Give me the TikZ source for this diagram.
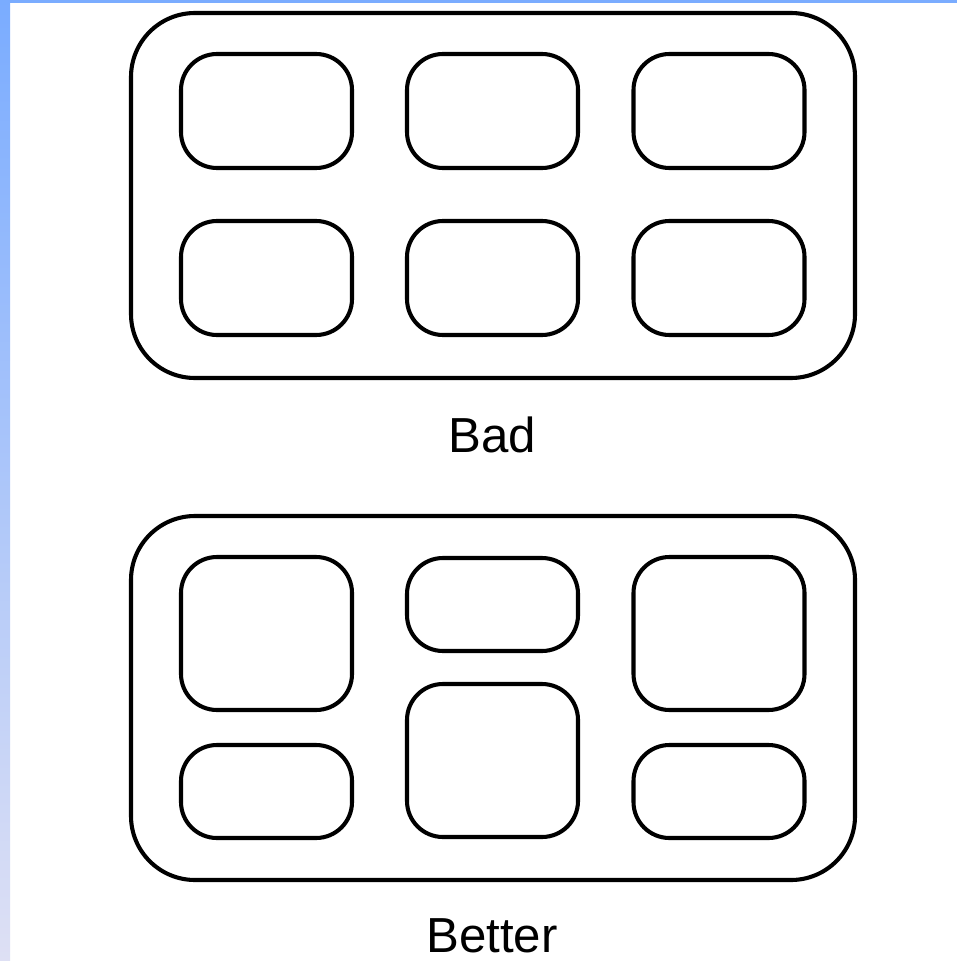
\documentclass[tikz,border=0pt]{standalone}
\usepackage{fontspec}
\setmainfont{Liberation Sans}
\usepackage{tikz}
\usetikzlibrary{positioning, calc}

\definecolor{edgeblue}{RGB}{122,172,255}
\definecolor{edgelilac}{RGB}{222,224,244}

\begin{document}
\begin{tikzpicture}[
        tray/.style={rectangle, draw=black, line width=2.9pt, rounded corners=1.6cm, minimum width=18.1cm},
        cell/.style={rectangle, draw=black, line width=2.9pt, rounded corners=0.9cm, minimum width=4.275cm},
        caption/.style={font=\fontsize{35}{42}\selectfont, inner sep=0pt, anchor=base}
    ]
        % Page and frame strips
        \useasboundingbox (0,0) rectangle (23.925,-24.025);
        \fill[white] (0,0) rectangle (23.925,-24.025);
        \shade[top color=edgeblue, bottom color=edgelilac] (0,0) rectangle (0.25,-24.025);
        \fill[edgeblue] (0,0) rectangle (23.925,-0.075);

        % Bad
        \node[tray, minimum height=9.125cm] (badtray) at (12.325,-4.8875) {};
        \node[cell, minimum height=2.85cm] (bad11) at (6.6625,-2.775) {};
        \node[cell, minimum height=2.85cm] (bad12) at (12.3125,-2.775) {};
        \node[cell, minimum height=2.85cm] (bad13) at (17.975,-2.775) {};
        \node[cell, minimum height=2.85cm] (bad21) at (6.6625,-6.95) {};
        \node[cell, minimum height=2.85cm] (bad22) at (12.3125,-6.95) {};
        \node[cell, minimum height=2.85cm] (bad23) at (17.975,-6.95) {};
        \node[caption] (badlabel) at (12.3,-11.3) {Bad};

        % Better
        \node[tray, minimum height=9.1cm] (bettertray) at (12.325,-17.45) {};
        \node[cell, minimum height=3.825cm] (better11) at (6.6625,-15.8375) {};
        \node[cell, minimum height=2.325cm] (better21) at (6.6625,-19.7875) {};
        \node[cell, minimum height=2.325cm] (better12) at (12.3125,-15.1125) {};
        \node[cell, minimum height=3.825cm] (better22) at (12.3125,-19.0125) {};
        \node[cell, minimum height=3.825cm] (better13) at (17.975,-15.8375) {};
        \node[cell, minimum height=2.325cm] (better23) at (17.975,-19.7875) {};
        \node[caption] (betterlabel) at (12.3,-23.8) {Better};
    \end{tikzpicture}
\end{document}
